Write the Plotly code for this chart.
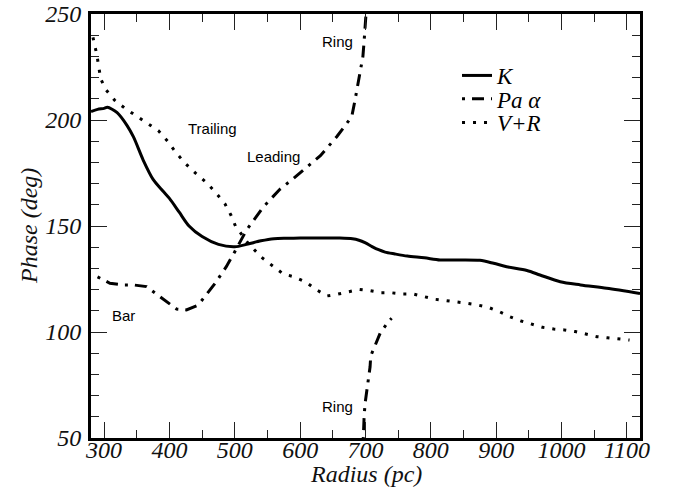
import plotly.graph_objects as go

# ---------------- data ----------------
radius_k = [280, 290, 300, 305, 320, 335, 345, 360, 375, 390, 400, 415, 430, 450, 475,
            500, 520, 540, 560, 580, 600, 620, 640, 660, 680, 690, 700, 710, 720, 730, 745,
            764, 790, 814, 845, 875, 896, 916, 947, 967, 998, 1029, 1069, 1120]
phase_k = [204, 205, 205.5, 206, 203.5, 197.5, 192, 181, 172, 166.5, 163, 156.5, 150, 145, 141.3,
           140.2, 141.5, 143, 144, 144.2, 144.3, 144.3, 144.3, 144.3, 144, 143.3, 142, 140.3, 138.8, 137.7, 136.8,
           135.8, 135, 134, 134, 133.8, 132.4, 130.8, 129, 126.9, 123.7, 122.2, 120.6, 118.2]

radius_pa = [290, 294, 309, 329, 345, 365, 378, 394, 411, 426, 444, 470, 487, 500, 518,
             544, 569, 590, 613, 631, 656, 679, 684, 689, 693, 696, 698, 700, 701,
             None,
             696.5, 697, 698, 699.4, 702, 704.5, 707, 708, 714.7, 722.4, 735, 740]
phase_pa = [126, 125.3, 123, 122.2, 122.2, 121.4, 118.5, 114.6, 110.8, 110.4, 112.7, 123, 130.8, 137.9, 148.1,
            159.1, 167.3, 172.5, 178.5, 183.2, 192.1, 201.6, 209.4, 218.4, 224.4, 229.9, 237.7, 247.2, 251,
            None,
            49, 55.3, 60.8, 66.4, 71.8, 78.1, 83.6, 88.7, 93.9, 99.4, 104.9, 106.5]

radius_vr = [283, 285, 289, 292, 295, 303, 316, 332, 349, 366, 383, 397, 410, 424, 440, 457, 471,
             485, 494, 501, 520, 541, 559, 574, 590, 608, 624, 641, 657, 674, 691, 707, 724,
             740, 757, 773, 790, 807, 823, 840, 856, 872, 888, 905, 921, 938, 955, 971, 988,
             1004, 1021, 1037, 1054, 1070, 1087, 1104]
phase_vr = [239, 236.2, 230.7, 224.8, 219.3, 214.2, 209.4, 205.5, 201.9, 198.6, 195, 190.1, 184.6,
            179.6, 174.9, 170.4, 165.7, 160.4, 155.2, 150, 142, 135.2, 130.8, 127.4, 126.1, 123.7,
            120.1, 117, 117.8, 119, 120.1, 119.5, 118.5, 118.5, 117.9, 117.9, 116.6, 115.4, 114.8,
            114.3, 113.5, 112.7, 111.6, 109.6, 107.2, 105.2, 103.8, 102.2, 101.4, 101, 100.2, 98.9,
            97.8, 97.3, 96.7, 96.2]

x_ticks = [300, 400, 500, 600, 700, 800, 900, 1000, 1100]
x_minor = [350, 450, 550, 650, 750, 850, 950, 1050]
y_ticks = [50, 100, 150, 200, 250]
y_minor = [60, 70, 80, 90, 110, 120, 130, 140, 160, 170, 180, 190, 210, 220, 230, 240]

labels = ["Trailing", "Leading", "Ring", "Bar", "Ring"]
label_x = [466, 559, 657, 330, 657]
label_y = [196, 182.7, 237, 108, 64.8]

# ---------------- figure ----------------
serif = "Liberation Serif"
fig = go.Figure()
fig.add_trace(go.Scatter(x=radius_k, y=phase_k, mode="lines", name="K",
                         line=dict(color="black", width=3, shape="spline", smoothing=0.8),
                         legend="legend"))
fig.add_trace(go.Scatter(x=radius_pa, y=phase_pa, mode="lines", name="Pa α",
                         line=dict(color="black", width=3, dash="3px,7px,12px,7px"),
                         connectgaps=False, legend="legend2"))
fig.add_trace(go.Scatter(x=radius_vr, y=phase_vr, mode="lines", name="V+R",
                         line=dict(color="black", width=3, dash="3px,8px"),
                         legend="legend3"))

for t, xx, yy in zip(labels, label_x, label_y):
    fig.add_annotation(x=xx, y=yy, text=t, showarrow=False, xref="x", yref="y",
                       font=dict(family="Liberation Sans", size=15, color="black"))

# axis titles as annotations for exact placement
fig.add_annotation(x=0.5, y=-0.084, xref="paper", yref="paper", text="<i>Radius (pc)</i>",
                   showarrow=False, xanchor="center", yanchor="middle",
                   font=dict(family=serif, size=24, color="#111"))
fig.add_annotation(x=-0.113, y=0.5, xref="paper", yref="paper", text="<i>Phase (deg)</i>",
                   showarrow=False, xanchor="center", yanchor="middle", textangle=-90,
                   font=dict(family=serif, size=24, color="#111"))

axis_common = dict(showline=True, linewidth=3, linecolor="black", mirror="ticks",
                   ticks="inside", ticklen=16, tickwidth=1, tickcolor="#222",
                   showgrid=False, zeroline=False,
                   tickfont=dict(family=serif, size=24, color="#111", style="italic"))

fig.update_xaxes(range=[280, 1120], tickmode="array", tickvals=x_ticks,
                 minor=dict(ticks="inside", ticklen=8, tickmode="array", tickvals=x_minor,
                            tickwidth=1, tickcolor="#222", showgrid=False),
                 ticklabelstandoff=-12, **axis_common)
fig.update_yaxes(range=[50, 250], tickmode="array", tickvals=y_ticks,
                 minor=dict(ticks="inside", ticklen=8, tickmode="array", tickvals=y_minor,
                            tickwidth=1, tickcolor="#222", showgrid=False),
                 ticklabelstandoff=2, **axis_common)

leg_font = dict(family=serif, size=23, color="black", style="italic")
leg_common = dict(x=0.6667, xanchor="left", yanchor="middle", bgcolor="rgba(0,0,0,0)",
                  borderwidth=0, font=leg_font)
fig.update_layout(
    width=682, height=498,
    margin=dict(l=91, r=42, t=14, b=60, autoexpand=False),
    plot_bgcolor="white", paper_bgcolor="white",
    showlegend=True,
    legend=dict(y=0.855, **leg_common),
    legend2=dict(y=0.800, **leg_common),
    legend3=dict(y=0.744, **leg_common),
)

fig.write_html("out.html")
